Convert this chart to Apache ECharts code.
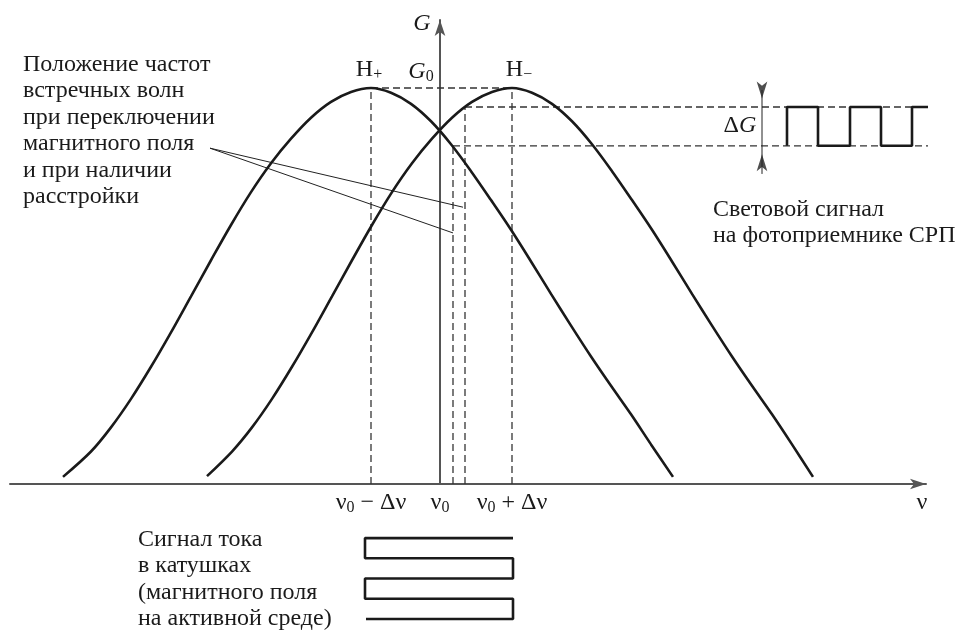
<!DOCTYPE html>
<html>
<head>
<meta charset="utf-8">
<script src="https://cdn.jsdelivr.net/npm/echarts@6/dist/echarts.min.js"></script>
<style>
  html, body { margin: 0; padding: 0; background: #fff; }
  #chart { width: 956px; height: 630px; }
</style>
</head>
<body>
<div id="chart"></div>
<script>
// Gain contours of the two counter-propagating waves (ν offset from ν0, G relative to G0)
const hPlusNu  = [-377, -349, -329, -309, -289, -269, -249, -229, -209, -189, -169, -149, -129, -109, -89, -69,
                  -49, -29, -9, 11, 31, 51, 71, 91, 111, 131, 151, 171, 191, 211, 233];
const hPlusG   = [0.018, 0.082, 0.143, 0.215, 0.296, 0.383, 0.474, 0.565, 0.654, 0.737, 0.81, 0.872, 0.925, 0.965, 0.99, 1.0,
                  0.988, 0.96, 0.916, 0.858, 0.79, 0.717, 0.642, 0.562, 0.48, 0.40, 0.322, 0.248, 0.176, 0.10, 0.018];
const hMinusNu = [-233, -208, -188, -168, -148, -128, -108, -88, -68, -48, -28, -8, 12, 32, 52, 72,
                  92, 112, 132, 152, 172, 192, 212, 232, 252, 272, 292, 312, 332, 352, 373];
const hMinusG  = [0.02, 0.082, 0.143, 0.215, 0.296, 0.383, 0.474, 0.565, 0.654, 0.737, 0.81, 0.872, 0.925, 0.965, 0.99, 1.0,
                  0.988, 0.96, 0.916, 0.858, 0.79, 0.717, 0.642, 0.562, 0.48, 0.40, 0.322, 0.248, 0.176, 0.10, 0.018];

// Peaks H+ / H− and the working frequencies with detuning
const peakNu = [-69, 72];
const peakG = 1;
const workNu = [13, 25];
const workG = [0.854, 0.952];
const levelEndNu = 508;

// ΔG dimension marker
const markerNu = 322;
const markerG = [0.995, 0.783];

// Light signal at the photodetector (square wave between the two ΔG levels)
const lightNu = [347, 347, 378, 378, 410, 410, 441, 441, 472, 472, 505];
const lightG  = [0.854, 0.952, 0.952, 0.854, 0.854, 0.952, 0.952, 0.854, 0.854, 0.952, 0.952];

// Leader lines from the note to the two working frequencies
const leaderFrom = [-230, 0.848];
const leaderToNu = [23, 13];
const leaderToG  = [0.699, 0.634];

// Coil current (switching between ν0 − Δν and ν0 + Δν over time)
const coilNu = [73, -75, -75, 73, 73, -75, -75, 73, 73, -74];
const coilT  = [0, 0, 1, 1, 2, 2, 3, 3, 4, 4];

// Frequency axis tick labels
const tickNu = [-69, 0, 72];
const tickLabels = ['ν0 − Δν', 'ν0', 'ν0 + Δν'];

const INK = '#1a1a1a';
const SERIF = '"Liberation Serif", "Times New Roman", serif';
const FS = 24;

function richStyles(colorKey) {
  const c = {}; c[colorKey] = INK;
  return {
    n: Object.assign({ fontFamily: SERIF, fontSize: FS, lineHeight: 26 }, c),
    i: Object.assign({ fontFamily: SERIF, fontSize: FS, fontStyle: 'italic', lineHeight: 26 }, c),
    s: Object.assign({ fontFamily: SERIF, fontSize: 16, lineHeight: 12, verticalAlign: 'bottom' }, c)
  };
}

function subscriptZero(label) {
  return label.split('ν0').map((part, k) =>
    (k > 0 ? '{n|ν}{s|0}' : '') + (part ? '{n|' + part + '}' : '')).join('');
}

const pairs = (xs, ys) => xs.map((x, i) => [x, ys[i]]);

function lineSeries(data, style, extra) {
  return Object.assign({
    type: 'line', data: data, symbol: 'none', showSymbol: false,
    lineStyle: style, silent: true, animation: false, z: 3
  }, extra || {});
}

const dashed = { color: '#333', width: 1.3, type: [7, 4] };
const thin = { color: '#222', width: 1 };
const thick = { color: INK, width: 2.6 };

const series = [];

// gain contours
series.push(lineSeries(pairs(hPlusNu, hPlusG), thick, { smooth: 0.33, z: 5 }));
series.push(lineSeries(pairs(hMinusNu, hMinusG), thick, { smooth: 0.33, z: 5 }));

// peak level and peak verticals
series.push(lineSeries([[peakNu[0], peakG], [peakNu[1], peakG]], dashed));
peakNu.forEach(nu => series.push(lineSeries([[nu, 0], [nu, peakG]], dashed)));

// working points: verticals and ΔG levels
workNu.forEach((nu, k) => {
  series.push(lineSeries([[nu, 0], [nu, workG[k]]], dashed));
  series.push(lineSeries([[nu, workG[k]], [levelEndNu, workG[k]]], dashed));
});

// ΔG marker line with arrowheads pointing at the levels
series.push(lineSeries([[markerNu, markerG[0]], [markerNu, markerG[1]]], thin));
series.push({
  type: 'scatter', silent: true, animation: false, z: 6,
  symbol: 'arrow', symbolSize: [8, 17],
  itemStyle: { color: '#222' },
  data: [
    { value: [markerNu, workG[1]], symbolRotate: 180, symbolOffset: [0, -8.5] },
    { value: [markerNu, workG[0]], symbolRotate: 0, symbolOffset: [0, 8.5] }
  ]
});

// light signal square wave
series.push(lineSeries(pairs(lightNu, lightG), { color: INK, width: 2.6 }, { z: 6 }));

// leader lines
leaderToNu.forEach((nu, k) => series.push(lineSeries([leaderFrom, [nu, leaderToG[k]]], thin)));

// coil current meander (lower grid)
series.push(lineSeries(pairs(coilNu, coilT), { color: INK, width: 2.6 }, { xAxisIndex: 1, yAxisIndex: 1 }));

const axisArrowLine = {
  show: true, onZero: true,
  symbol: ['none', 'arrow'], symbolSize: [8, 16],
  lineStyle: { color: '#555', width: 2 }
};

const graphicRich = richStyles('fill');
function label(x, y, text, align, vAlign) {
  return {
    type: 'text', x: x, y: y, silent: true, z: 10,
    style: {
      text: text, rich: graphicRich,
      fill: INK, font: FS + 'px ' + SERIF,
      align: align, verticalAlign: vAlign,
      textAlign: align, textVerticalAlign: vAlign
    }
  };
}
function block(x, y, lines) {
  return {
    type: 'text', x: x, y: y, silent: true, z: 10,
    style: {
      text: lines.join('\n'), fill: INK,
      font: FS + 'px ' + SERIF, lineHeight: 26.5,
      align: 'left', verticalAlign: 'top',
      textAlign: 'left', textVerticalAlign: 'top'
    }
  };
}

const option = {
  animation: false,
  backgroundColor: '#ffffff',
  grid: [
    { left: 10, right: 30, top: 20, bottom: 146 },
    { left: 10, right: 30, top: 530, height: 95 }
  ],
  xAxis: [
    {
      type: 'value', gridIndex: 0, min: -430, max: 486,
      axisLine: axisArrowLine,
      axisTick: { show: false }, splitLine: { show: false },
      axisLabel: {
        show: true, margin: 6,
        customValues: tickNu,
        formatter: v => {
          const k = tickNu.indexOf(v);
          return k < 0 ? '' : subscriptZero(tickLabels[k]);
        },
        rich: richStyles('color')
      }
    },
    { type: 'value', gridIndex: 1, min: -430, max: 486, show: false }
  ],
  yAxis: [
    {
      type: 'value', gridIndex: 0, min: 0, max: 1.1717,
      axisLine: axisArrowLine,
      axisTick: { show: false }, splitLine: { show: false }, axisLabel: { show: false }
    },
    { type: 'value', gridIndex: 1, min: -0.4, max: 4.3, inverse: true, show: false }
  ],
  series: series,
  graphic: [
    label(422, 24, '{i|G}', 'center', 'middle'),
    label(421, 72, '{i|G}{s|0}', 'center', 'middle'),
    label(369, 70, '{n|H}{s|+}', 'center', 'middle'),
    label(519, 70, '{n|H}{s|−}', 'center', 'middle'),
    label(740, 126, '{n|Δ}{i|G}', 'center', 'middle'),
    label(922, 503, '{n|ν}', 'center', 'middle'),
    block(23, 51, ['Положение частот', 'встречных волн', 'при переключении', 'магнитного поля', 'и при наличии', 'расстройки']),
    block(713, 196, ['Световой сигнал', 'на фотоприемнике СРП']),
    block(138, 526, ['Сигнал тока', 'в катушках', '(магнитного поля', 'на активной среде)'])
  ]
};

const chart = echarts.init(document.getElementById('chart'), null, { renderer: 'canvas' });
chart.setOption(option);
</script>
</body>
</html>
